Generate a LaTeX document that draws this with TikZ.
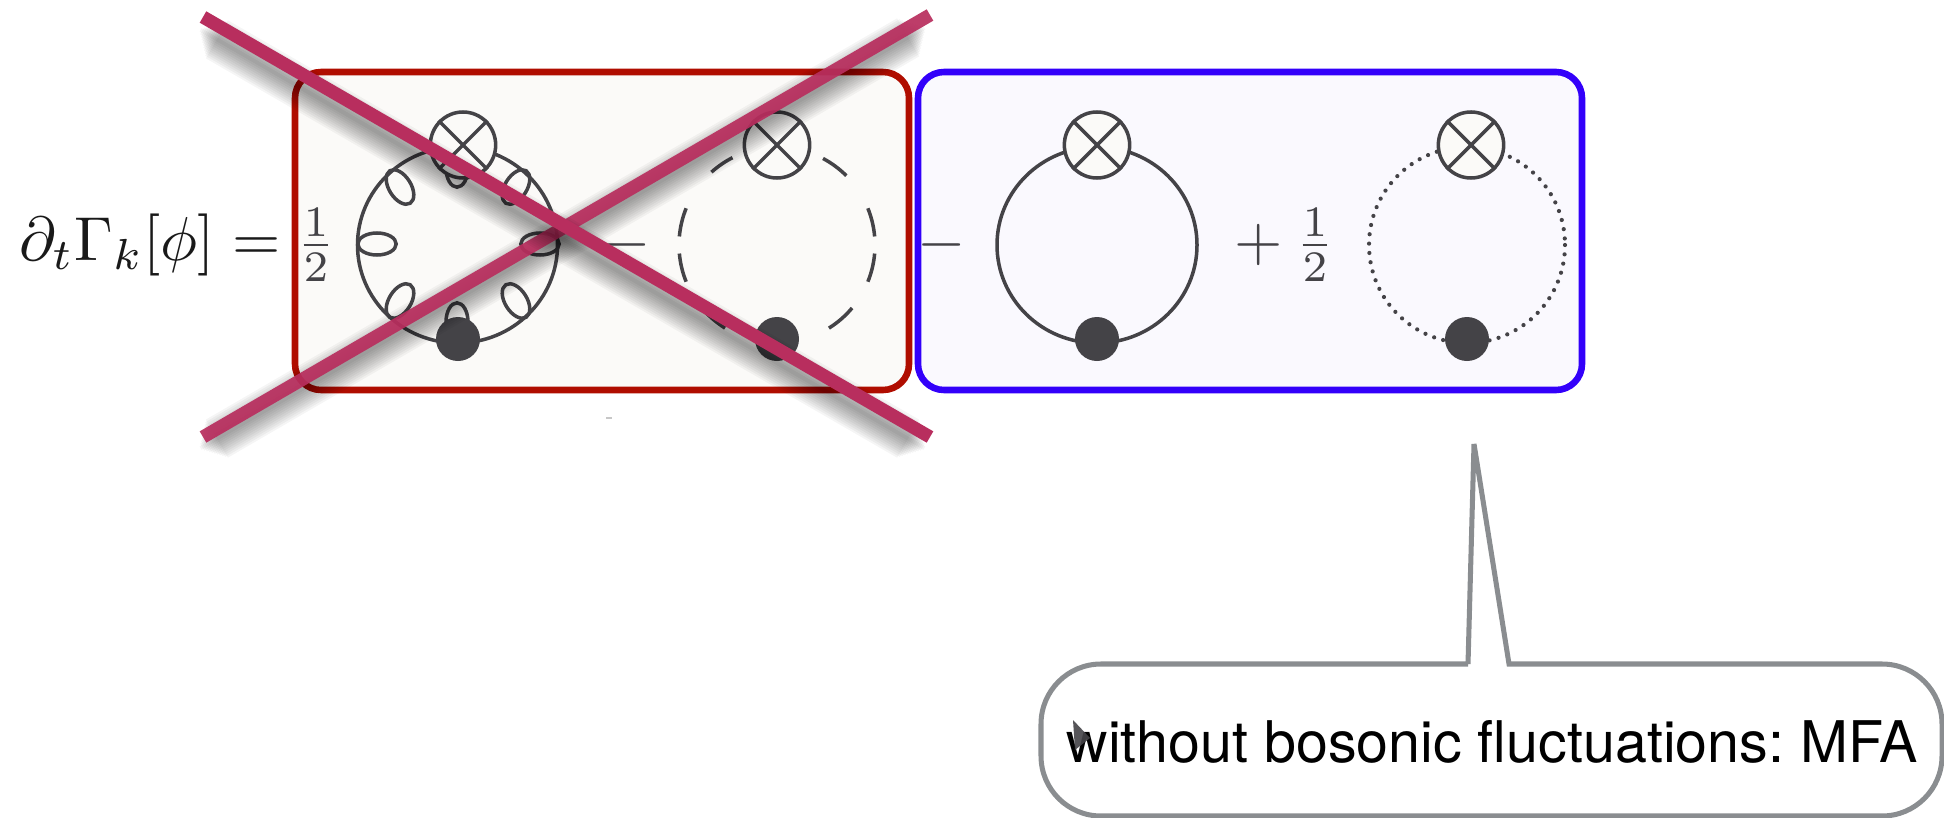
\documentclass[tikz,border=0pt]{standalone}
\usepackage{fontspec}
\setsansfont{TeX Gyre Heros}
\usetikzlibrary{shapes.geometric}
\definecolor{ink}{HTML}{444347}
\definecolor{redline}{HTML}{B00D00}
\definecolor{redfill}{HTML}{FBFAF8}
\definecolor{blueline}{HTML}{3300FA}
\definecolor{bluefill}{HTML}{FAF9FE}
\definecolor{strike}{HTML}{B82E5E}
\definecolor{callline}{HTML}{8A8D90}

\newcommand{\crossvertex}[3]{%
  \node[crossdot] (#1) at (#2,#3) {};
  \draw[loopline] (#1.45) -- (#1.225);
  \draw[loopline] (#1.135) -- (#1.315);
}
\newcommand{\strikeline}[3]{%
  \foreach \w in {4,8,...,44} {
    \draw[line width=\w*0.8535pt,black,opacity=0.04,shorten <=\w*0.4pt,shorten >=\w*0.4pt]
      ([shift={(-4,12)}]#1) -- ([shift={(-4,12)}]#2);
  }
  \draw[strikeout,draw opacity=#3] (#1) -- (#2);
}

\begin{document}
\begin{tikzpicture}[
  x=0.03cm,y=-0.03cm,
  loopline/.style={draw=ink,line width=3pt},
  box/.style={rounded corners=0.78cm,line width=5.6pt},
  loopoval/.style={ellipse,loopline,inner sep=0pt,minimum width=6cm,minimum height=5.88cm},
  crossdot/.style={ellipse,loopline,fill=redfill,inner sep=0pt,minimum width=1.96cm,minimum height=1.98cm},
  blobdot/.style={circle,fill=ink,inner sep=0pt,minimum size=1.32cm},
  tinyloop/.style={ellipse,loopline,inner sep=0pt,minimum width=1.15cm,minimum height=0.66cm},
  mathtext/.style={text=ink,inner sep=0pt},
  strikeout/.style={draw=strike,line width=11.2pt},
  callout/.style={draw=callline,line width=4.3pt,line join=miter}
]
\useasboundingbox (0,0) rectangle (1944,817);

% Left-hand side
\node[mathtext,scale=5.3,text=black!90] (lhs) at (150,245) {$\partial_t\Gamma_k[\phi]=$};

% Boxes
\draw[box,draw=redline,fill=redfill] (295,72) rectangle (909,390);
\draw[box,draw=blueline,fill=bluefill] (918,72) rectangle (1582,390);
\fill[black!22] (606,417) rectangle (612,419);

% First diagram: small loops on the line
\node[mathtext,scale=5.3] (halfa) at (316,245) {$\frac12$};
\node[loopoval] (loopa) at (457.5,245) {};
\node[tinyloop,rotate=-58] (la1) at (400,187) {};
\node[tinyloop,rotate=58] (la2) at (516,187) {};
\node[tinyloop,rotate=0] (la3) at (377,244) {};
\node[tinyloop,rotate=0] (la4) at (540,244) {};
\node[tinyloop,rotate=58] (la5) at (400,301) {};
\node[tinyloop,rotate=-58] (la6) at (516,301) {};
\node[tinyloop,rotate=90] (la7) at (457,168) {};
\node[tinyloop,rotate=90] (la8) at (457,322) {};
\crossvertex{xa}{463}{145}
\node[blobdot] (ba) at (458,339) {};

% Second diagram: dashes
\node[mathtext,scale=5.3] (minusa) at (627,245) {$-$};
\foreach \a/\b in {5/22,40/58,122/140,158/175,185/202,228/243,298/315,338/355} {
  \draw[loopline] ({777+98*cos(\a)},{245+98*sin(\a)}) arc[start angle=\a,end angle=\b,radius=98];
}
\crossvertex{xb}{777}{145}
\node[blobdot] (bb) at (777,339) {};

% Third diagram: plain line
\node[mathtext,scale=5.3] (minusb) at (942,245) {$-$};
\node[loopoval] (loopc) at (1097,245) {};
\crossvertex{xc}{1097}{145}
\node[blobdot] (bc) at (1097,339) {};

% Fourth diagram: dots
\node[mathtext,scale=5.3] (plus) at (1259,245) {$+$};
\node[mathtext,scale=5.3] (halfb) at (1315,245) {$\frac12$};
\draw[draw=ink,line width=3.6pt,line cap=round,dash pattern=on 0pt off 8pt]
  (1467,245) ellipse [x radius=98,y radius=98];
\crossvertex{xd}{1471}{145}
\node[blobdot] (bd) at (1467,339) {};

% Strike-through
\coordinate (sa) at (203,437);
\coordinate (sb) at (930,15);
\coordinate (sc) at (203,17);
\coordinate (sd) at (930,437);
\strikeline{sa}{sb}{0.93}
\strikeline{sc}{sd}{1}

% Callout
\coordinate (tip) at (1474,444);
\coordinate (basel) at (1468,664);
\coordinate (baser) at (1509,664);
\draw[callout] (basel) -- (tip) -- (baser) [rounded corners=1.8cm] -- (1942,664) -- (1942,816)
  -- (1041,816) -- (1041,664) -- (basel);
\node[font=\sffamily\frenchspacing,scale=4.9,inner sep=0pt] (calltext) at (1492,742) {without bosonic fluctuations: MFA};
\fill[ink,opacity=0.9] (1073,720) -- (1090,738) -- (1075,750) -- cycle;
\end{tikzpicture}
\end{document}
